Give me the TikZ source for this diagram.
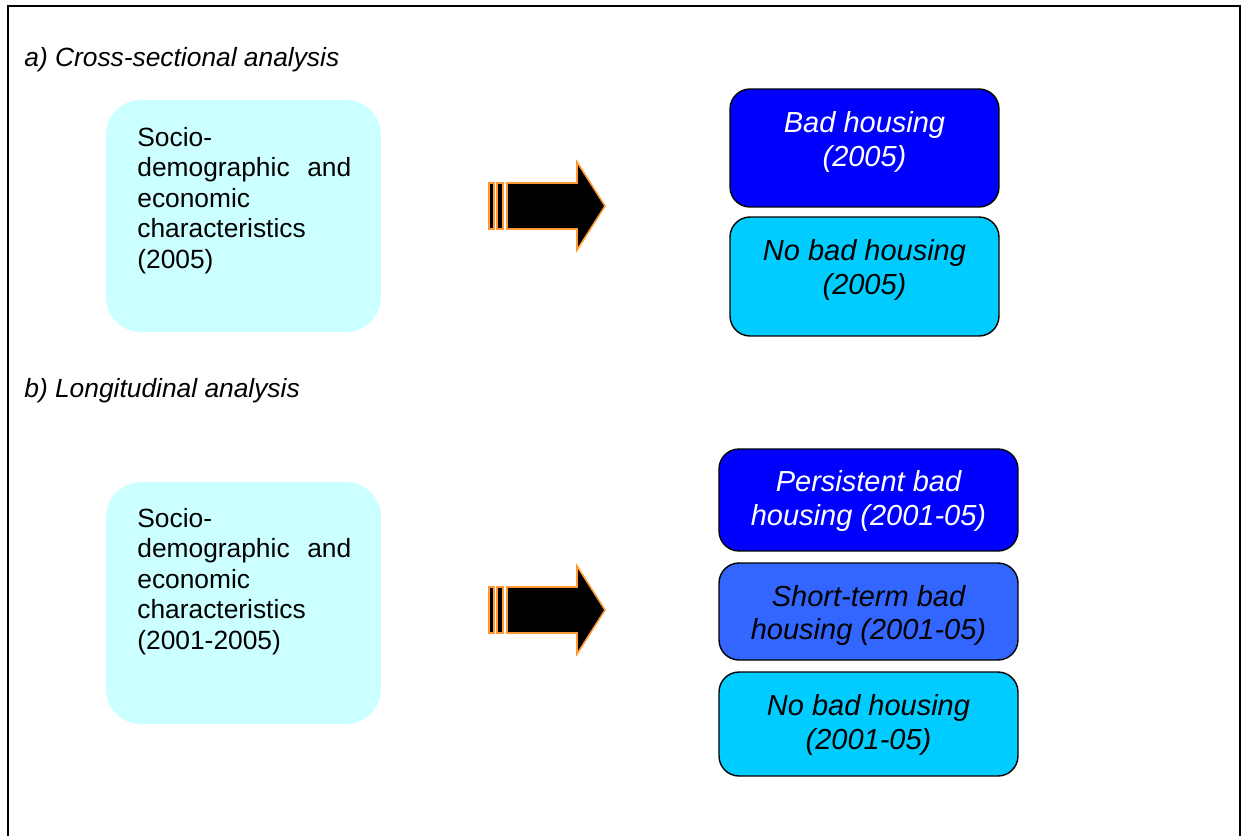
\documentclass[tikz,border=0pt]{standalone}
\usepackage{fontspec}
\setmainfont{Liberation Sans}
\definecolor{lightc}{HTML}{CCFFFF}
\definecolor{darkblue}{HTML}{0000FF}
\definecolor{midblue}{HTML}{3366FF}
\definecolor{skyblue}{HTML}{00CCFF}
\definecolor{arroworange}{HTML}{FF9933}
\begin{document}
\begin{tikzpicture}[x=0.02cm,y=-0.02cm,
  lbox/.style={fill=lightc, rounded corners=0.7cm, minimum width=5.5cm, inner sep=0},
  rbox/.style={draw=black, line width=0.8pt, rounded corners=0.4cm, inner sep=0},
  rtext/.style={align=center, font=\fontsize{16.5}{19.3}\selectfont\itshape, inner sep=0},
  ltext/.style={align=left, text width=4.28cm, font=\fontsize{15}{17.3}\selectfont, inner sep=0, anchor=north west},
  heading/.style={font=\fontsize{15}{18}\selectfont\itshape, anchor=base west, inner sep=0},
  barrow/.style={draw=arroworange, line width=0.9pt, fill=black, line join=miter}
]
\useasboundingbox (0,0) rectangle (1242,836);
\fill[white] (0,0) rectangle (1242,836);
% frame
\draw[line width=1pt] (8,836) -- (8,6) -- (1240,6) -- (1240,836);

% headings
\node[heading] (ha) at (24,66) {a) Cross-sectional analysis};
\node[heading] (hb) at (24,397) {b) Longitudinal analysis};

% left boxes
\node[lbox, minimum height=4.64cm] (l1) at (243.5,216) {};
\node[ltext] (l1t) at (137,127) {Socio-\\\makebox[\linewidth]{demographic\hfill and}\\economic\\characteristics\\(2005)};
\node[lbox, minimum height=4.84cm] (l2) at (243.5,603) {};
\node[ltext] (l2t) at (137,508) {Socio-\\\makebox[\linewidth]{demographic\hfill and}\\economic\\characteristics\\(2001-2005)};

% block arrows
\coordinate (a1) at (547,206);
\coordinate (a2) at (547,610);
\foreach \c in {a1,a2}{
  \begin{scope}[shift={(\c)}]
    \draw[barrow] (-40,-23) -- (30,-23) -- (30,-44) -- (58,0) -- (30,44) -- (30,23) -- (-40,23) -- cycle;
    \draw[barrow] (-58,-23) rectangle (-53,23);
    \draw[barrow] (-50,-23) rectangle (-44,23);
  \end{scope}
}

% right boxes (a)
\node[rbox, fill=darkblue, minimum width=5.38cm, minimum height=2.36cm] (r1) at (864.5,148) {};
\node[rtext, text=white] (r1t) at (864.5,142) {Bad housing\\(2005)};
\node[rbox, fill=skyblue, minimum width=5.38cm, minimum height=2.38cm] (r2) at (864.5,276.5) {};
\node[rtext] (r2t) at (864.5,270) {No bad housing\\(2005)};

% right boxes (b)
\node[rbox, fill=darkblue, minimum width=5.98cm, minimum height=2.04cm] (r3) at (868.5,500) {};
\node[rtext, text=white] (r3t) at (868.5,501) {Persistent bad\\housing (2001-05)};
\node[rbox, fill=midblue, minimum width=5.98cm, minimum height=1.94cm] (r4) at (868.5,611.5) {};
\node[rtext] (r4t) at (868.5,615.5) {Short-term bad\\housing (2001-05)};
\node[rbox, fill=skyblue, minimum width=5.98cm, minimum height=2.08cm] (r5) at (868.5,724) {};
\node[rtext] (r5t) at (868.5,725) {No bad housing\\(2001-05)};
\end{tikzpicture}
\end{document}
